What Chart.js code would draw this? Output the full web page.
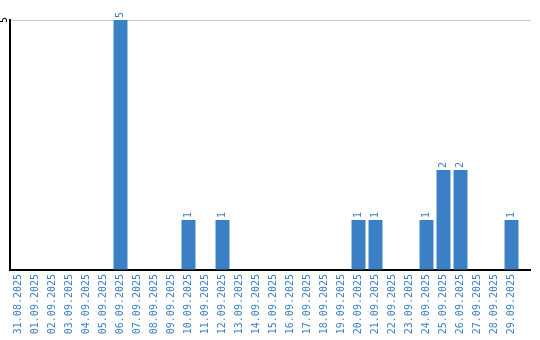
<!DOCTYPE html>
<html>
<head>
<meta charset="utf-8">
<script src="https://cdn.jsdelivr.net/npm/chart.js@4"></script>
<style>
  html, body { margin: 0; padding: 0; background: #fff; }
  #wrap { width: 540px; height: 340px; position: relative; }
</style>
</head>
<body>
<div id="wrap"><canvas id="c" width="540" height="340"></canvas></div>
<script>
const categories = ["31.08.2025","01.09.2025","02.09.2025","03.09.2025","04.09.2025","05.09.2025","06.09.2025","07.09.2025","08.09.2025","09.09.2025","10.09.2025","11.09.2025","12.09.2025","13.09.2025","14.09.2025","15.09.2025","16.09.2025","17.09.2025","18.09.2025","19.09.2025","20.09.2025","21.09.2025","22.09.2025","23.09.2025","24.09.2025","25.09.2025","26.09.2025","27.09.2025","28.09.2025","29.09.2025"];
const counts = [0,0,0,0,0,0,5,0,0,0,1,0,1,0,0,0,0,0,0,0,1,1,0,0,1,2,2,0,0,1];
const yTickLabels = ["5"];

const BLUE = '#3b7fc4';
const MONO = '"DejaVu Sans Mono", monospace';

const valueLabels = {
  id: 'valueLabels',
  afterDatasetsDraw(chart) {
    const ctx = chart.ctx;
    const meta = chart.getDatasetMeta(0);
    ctx.save();
    ctx.fillStyle = BLUE;
    ctx.font = '10px ' + MONO;
    meta.data.forEach((bar, i) => {
      const v = counts[i];
      if (!v) return;
      ctx.save();
      ctx.translate(bar.x, bar.y - 2);
      ctx.rotate(-Math.PI / 2);
      ctx.textAlign = 'left';
      ctx.textBaseline = 'middle';
      ctx.fillText(String(v), 0, 0);
      ctx.restore();
    });
    ctx.restore();
  }
};

const extendLines = {
  id: 'extendLines',
  afterDraw(chart) {
    const ctx = chart.ctx;
    const a = chart.chartArea;
    const y5 = chart.scales.y.getPixelForValue(5);
    ctx.save();
    ctx.lineWidth = 1;
    ctx.strokeStyle = '#c8c8c8';
    ctx.beginPath();
    ctx.moveTo(a.right, Math.round(y5) + 0.5);
    ctx.lineTo(531, Math.round(y5) + 0.5);
    ctx.stroke();
    ctx.strokeStyle = '#000';
    ctx.lineWidth = 2;
    ctx.beginPath();
    ctx.moveTo(a.right, a.bottom);
    ctx.lineTo(531, a.bottom);
    ctx.stroke();
    ctx.restore();
  }
};

new Chart(document.getElementById('c'), {
  type: 'bar',
  data: {
    labels: categories,
    datasets: [{
      data: counts,
      backgroundColor: BLUE,
      borderWidth: 0,
      barPercentage: 0.82,
      categoryPercentage: 1.0
    }]
  },
  options: {
    responsive: false,
    animation: false,
    devicePixelRatio: 1,
    layout: { padding: { top: 20, right: 20, left: 0, bottom: 0 } },
    plugins: { legend: { display: false }, tooltip: { enabled: false } },
    scales: {
      x: {
        grid: { display: false, drawTicks: false },
        border: { display: true, color: '#000', width: 2 },
        ticks: {
          color: BLUE,
          font: { family: MONO, size: 10 },
          minRotation: 90, maxRotation: 90,
          autoSkip: false,
          padding: 4
        },
        afterFit(s) { s.height = 70; }
      },
      y: {
        min: 0, max: 5,
        grid: { color: '#c8c8c8', drawTicks: false },
        border: { display: true, color: '#000', width: 2 },
        ticks: {
          stepSize: 5,
          color: '#000',
          font: { family: MONO, size: 10 },
          minRotation: 90, maxRotation: 90,
          crossAlign: 'center',
          padding: 3,
          callback: (v) => (yTickLabels.includes(String(v)) ? String(v) : '')
        },
        afterFit(s) { s.width = 10; }
      }
    }
  },
  plugins: [valueLabels, extendLines]
});
</script>
</body>
</html>
